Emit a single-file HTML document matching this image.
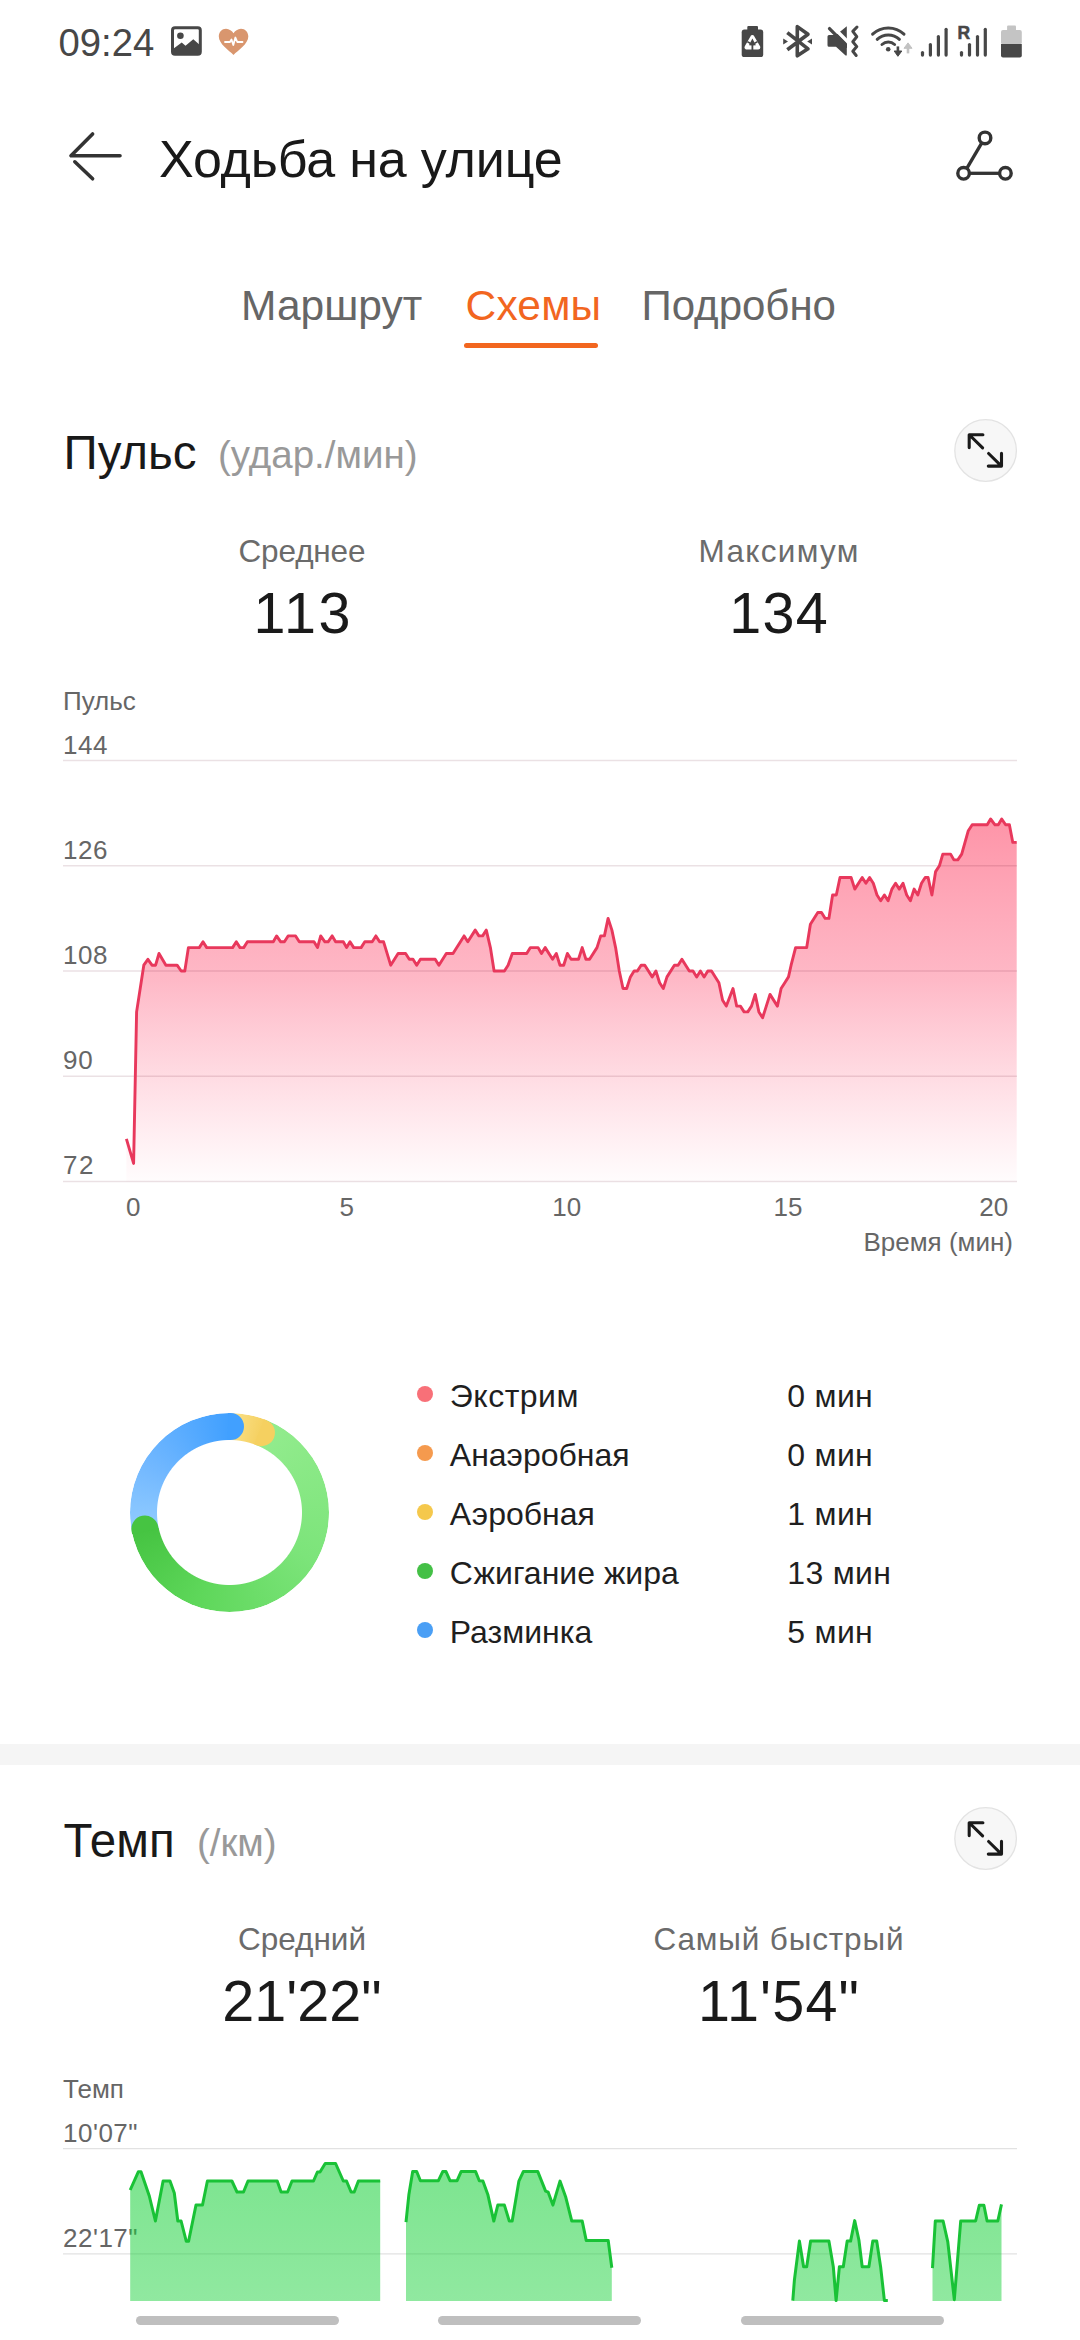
<!DOCTYPE html>
<html><head><meta charset="utf-8">
<style>
html,body{margin:0;padding:0;width:1080px;height:2340px;overflow:hidden;background:#fff;}
body{position:relative;font-family:"Liberation Sans", sans-serif;}
.t{position:absolute;white-space:nowrap;line-height:1;}
.abs{position:absolute;}
</style></head><body>

<div style="position:absolute;left:464px;top:343px;width:134px;height:5px;border-radius:2.5px;background:#f2661f"></div>
<div style="position:absolute;left:0;top:1744px;width:1080px;height:21px;background:#f5f5f5"></div>
<div style="position:absolute;left:136px;top:2316px;width:203px;height:9px;border-radius:4.5px;background:#bfbfbf"></div>
<div style="position:absolute;left:437.5px;top:2316px;width:203.5px;height:9px;border-radius:4.5px;background:#bfbfbf"></div>
<div style="position:absolute;left:741px;top:2316px;width:203px;height:9px;border-radius:4.5px;background:#bfbfbf"></div>

<div class="t" style="top:24.38px;font-size:38.3px;color:#474747;left:58.50px;">09:24</div><div class="t" style="top:132.98px;font-size:52px;color:#191919;letter-spacing:-0.15px;left:159.00px;">Ходьба на улице</div><div class="t" style="top:284.52px;font-size:42.5px;color:#666666;left:241.00px;">Маршрут</div><div class="t" style="top:284.52px;font-size:42.5px;color:#f2661f;letter-spacing:0.2px;left:465.50px;">Схемы</div><div class="t" style="top:284.95px;font-size:42px;color:#666666;left:641.50px;">Подробно</div><div class="t" style="top:428.79px;font-size:47.5px;color:#191919;left:63.50px;">Пульс</div><div class="t" style="top:436.41px;font-size:38.5px;color:#999999;left:218.00px;">(удар./мин)</div><div class="t" style="top:536.34px;font-size:31.5px;color:#6b6b6b;letter-spacing:-0.15px;left:-198.07px;width:1000px;text-align:center;">Среднее</div><div class="t" style="top:585.33px;font-size:57.5px;color:#1a1a1a;letter-spacing:2.7px;left:-196.65px;width:1000px;text-align:center;">113</div><div class="t" style="top:536.34px;font-size:31.5px;color:#6b6b6b;letter-spacing:1.3px;left:279.15px;width:1000px;text-align:center;">Максимум</div><div class="t" style="top:585.33px;font-size:57.5px;color:#1a1a1a;letter-spacing:1.25px;left:279.12px;width:1000px;text-align:center;">134</div><div class="t" style="top:687.99px;font-size:26px;color:#666666;left:63.00px;">Пульс</div><div class="t" style="top:731.99px;font-size:26px;color:#666666;letter-spacing:0.5px;left:63.00px;">144</div><div class="t" style="top:836.99px;font-size:26px;color:#666666;letter-spacing:0.5px;left:63.00px;">126</div><div class="t" style="top:941.99px;font-size:26px;color:#666666;letter-spacing:0.5px;left:63.00px;">108</div><div class="t" style="top:1046.99px;font-size:26px;color:#666666;letter-spacing:0.8px;left:63.00px;">90</div><div class="t" style="top:1151.99px;font-size:26px;color:#666666;letter-spacing:1.5px;left:63.00px;">72</div><div class="t" style="top:1193.99px;font-size:26px;color:#666666;left:-366.70px;width:1000px;text-align:center;">0</div><div class="t" style="top:1193.99px;font-size:26px;color:#666666;left:-153.30px;width:1000px;text-align:center;">5</div><div class="t" style="top:1193.99px;font-size:26px;color:#666666;left:66.75px;width:1000px;text-align:center;">10</div><div class="t" style="top:1193.99px;font-size:26px;color:#666666;left:288.00px;width:1000px;text-align:center;">15</div><div class="t" style="top:1193.99px;font-size:26px;color:#666666;left:493.75px;width:1000px;text-align:center;">20</div><div class="t" style="top:1229.29px;font-size:26px;color:#666666;right:67.00px;text-align:right;">Время (мин)</div><div class="t" style="top:1380.21px;font-size:32px;color:#1f1f1f;letter-spacing:0.5px;left:449.80px;">Экстрим</div><div class="t" style="top:1380.21px;font-size:32px;color:#1f1f1f;letter-spacing:0.3px;left:787.30px;">0 мин</div><div class="t" style="top:1439.21px;font-size:32px;color:#1f1f1f;left:449.80px;">Анаэробная</div><div class="t" style="top:1439.21px;font-size:32px;color:#1f1f1f;letter-spacing:0.3px;left:787.30px;">0 мин</div><div class="t" style="top:1498.21px;font-size:32px;color:#1f1f1f;left:449.80px;">Аэробная</div><div class="t" style="top:1498.21px;font-size:32px;color:#1f1f1f;letter-spacing:0.3px;left:787.30px;">1 мин</div><div class="t" style="top:1557.21px;font-size:32px;color:#1f1f1f;left:449.80px;">Сжигание жира</div><div class="t" style="top:1557.21px;font-size:32px;color:#1f1f1f;letter-spacing:0.3px;left:787.30px;">13 мин</div><div class="t" style="top:1616.21px;font-size:32px;color:#1f1f1f;left:449.80px;">Разминка</div><div class="t" style="top:1616.21px;font-size:32px;color:#1f1f1f;letter-spacing:0.3px;left:787.30px;">5 мин</div><div class="t" style="top:1816.79px;font-size:47.5px;color:#191919;left:63.50px;">Темп</div><div class="t" style="top:1824.41px;font-size:38.5px;color:#999999;left:197.00px;">(/км)</div><div class="t" style="top:1924.34px;font-size:31.5px;color:#6b6b6b;left:-198.00px;width:1000px;text-align:center;">Средний</div><div class="t" style="top:1973.33px;font-size:57.5px;color:#1a1a1a;left:-198.00px;width:1000px;text-align:center;">21'22"</div><div class="t" style="top:1924.34px;font-size:31.5px;color:#6b6b6b;letter-spacing:0.85px;left:278.93px;width:1000px;text-align:center;">Самый быстрый</div><div class="t" style="top:1973.33px;font-size:57.5px;color:#1a1a1a;letter-spacing:1.2px;left:279.10px;width:1000px;text-align:center;">11'54"</div><div class="t" style="top:2075.99px;font-size:26px;color:#666666;left:63.00px;">Темп</div><div class="t" style="top:2119.99px;font-size:26px;color:#666666;letter-spacing:0.5px;left:63.00px;">10'07"</div><div class="t" style="top:2224.99px;font-size:26px;color:#666666;letter-spacing:0.5px;left:63.00px;">22'17"</div>
<div style="position:absolute;left:417.3px;top:1386.1px;width:16px;height:16px;border-radius:50%;background:#f87078"></div><div style="position:absolute;left:417.3px;top:1445.1px;width:16px;height:16px;border-radius:50%;background:#f59a4e"></div><div style="position:absolute;left:417.3px;top:1504.1px;width:16px;height:16px;border-radius:50%;background:#f5c84c"></div><div style="position:absolute;left:417.3px;top:1563.1px;width:16px;height:16px;border-radius:50%;background:#44c046"></div><div style="position:absolute;left:417.3px;top:1622.1px;width:16px;height:16px;border-radius:50%;background:#4a9ff5"></div>
<div style="position:absolute;left:129.5px;top:1412.5px;width:199px;height:199px;border-radius:50%;
background:conic-gradient(from 0deg, #fae18a 0deg, #f5d060 21.7deg, #93ec8e 21.7deg, #7ce47a 120deg, #5ed75a 200deg, #46c442 258deg, #92ccff 258deg, #72b8ff 300deg, #41a0ff 360deg);
-webkit-mask:radial-gradient(circle, transparent 72.0px, #000 73.0px);mask:radial-gradient(circle, transparent 72.0px, #000 73.0px);"></div><div style="position:absolute;left:228.05px;top:1412.51px;width:15.5px;height:27px;border-radius:0 13.5px 13.5px 0;background:#41a0ff;transform-origin:2px 13.5px;transform:rotate(0.7deg)"></div><div style="position:absolute;left:258.80px;top:1418.59px;width:15.5px;height:27px;border-radius:0 13.5px 13.5px 0;background:#f5d060;transform-origin:2px 13.5px;transform:rotate(21.7deg)"></div><div style="position:absolute;left:142.88px;top:1516.38px;width:15.5px;height:27px;border-radius:0 13.5px 13.5px 0;background:#46c442;transform-origin:2px 13.5px;transform:rotate(258deg)"></div>

<svg class="abs" style="left:0;top:0" width="1080" height="200">
 <!-- gallery icon -->
 <rect x="172.5" y="27.75" width="27.8" height="26.5" rx="2.5" fill="none" stroke="#474747" stroke-width="3"/>
 <circle cx="180.4" cy="35.8" r="3.3" fill="#474747"/>
 <path d="M174 48.3 L181.7 42.5 L185.5 45.8 L193.3 39.2 L199 44.2 L199 53 L174 53 Z" fill="#474747"/>
 <!-- heart -->
 <path d="M233.5 55 C229 50.5 218.8 44 218.8 36.6 C218.8 32 222 28.75 226 28.75 C229.3 28.75 232 31 233.5 33.3 C235 31 237.7 28.75 241 28.75 C245 28.75 248.3 32 248.3 36.6 C248.3 44 238 50.5 233.5 55 Z" fill="#d9966e"/>
 <path d="M225 42 L230 42 L231.5 39.5 L233.3 45 L235.4 37.5 L237.3 42 L242.5 42" fill="none" stroke="#fff" stroke-width="1.8" stroke-linejoin="round" stroke-linecap="round"/>
 <!-- battery saver -->
 <rect x="747.3" y="25.9" width="10.7" height="5" rx="1" fill="#474747"/>
 <rect x="741.7" y="29.6" width="21.5" height="27.4" rx="2.6" fill="#474747"/>
 <path d="M752.4 37.2 L746.6 47.4 L758.2 47.4 Z" fill="none" stroke="#fff" stroke-width="4.2" stroke-linejoin="round"/>
 <path d="M752.4 38.6 L748.9 45.2 L755.9 45.2 Z" fill="#474747"/>
 <path d="M752.4 44 L752.4 50.5" stroke="#474747" stroke-width="1.8"/>
 <path d="M747.3 41.6 L750.2 43.3 M757.5 41.6 L754.6 43.3" stroke="#474747" stroke-width="1.6"/>
 <!-- bluetooth -->
 <path d="M787.3 32.6 L808 48.8 L797.3 55.8 L797.3 26.6 L808 34.2 L787.3 49.8" fill="none" stroke="#474747" stroke-width="3.6" stroke-linejoin="round"/>
 <path d="M783.2 38.5 L788 41.5 L783.2 44.5 Z M812 38.5 L807.2 41.5 L812 44.5 Z" fill="#474747"/>
 <!-- mute vibrate -->
 <path d="M829 35 L836 35 L846.8 26.2 L846.8 54.5 Q846.8 56.5 845 55 L836 46.8 L829 46.8 Q827.5 46.8 827.5 45.3 L827.5 36.5 Q827.5 35 829 35 Z" fill="#474747"/>
 <path d="M831.5 25.5 L849 43" stroke="#fff" stroke-width="3.4"/>
 <path d="M829.5 28.6 L847 46.3" stroke="#474747" stroke-width="3.3" stroke-linecap="round"/>
 <rect x="847" y="20" width="4" height="40" fill="#fff"/>
 <path d="M857 27 L852.8 31.4 L856.8 36.7 L852.8 41.8 L856.8 46.6 L852.8 51.2 L856.2 55.5" fill="none" stroke="#474747" stroke-width="3" stroke-linecap="round" stroke-linejoin="round"/>
 <!-- wifi -->
 <path d="M872.6 34.2 A22.8 22.8 0 0 1 904 34.2" fill="none" stroke="#474747" stroke-width="3" stroke-linecap="round"/>
 <path d="M877.2 39.3 A16.2 16.2 0 0 1 899.4 39.3" fill="none" stroke="#474747" stroke-width="3" stroke-linecap="round"/>
 <path d="M882 44.5 A9.5 9.5 0 0 1 894.6 44.5" fill="none" stroke="#474747" stroke-width="3" stroke-linecap="round"/>
 <circle cx="888.2" cy="49.2" r="2.3" fill="#474747"/>
 <path d="M897.9 46.4 L897.9 54" fill="none" stroke="#474747" stroke-width="2.6"/>
 <path d="M894.2 51 L897.9 56.3 L901.8 51 Z" fill="#474747" stroke="#474747" stroke-width="1" stroke-linejoin="round"/>
 <path d="M908 45.5 L908 53.4" fill="none" stroke="#c2c2c2" stroke-width="2.6"/>
 <path d="M904 48.3 L908 42.9 L912 48.3 Z" fill="#c2c2c2" stroke="#c2c2c2" stroke-width="1" stroke-linejoin="round"/>
 <!-- signal -->
 <g stroke="#474747" stroke-width="3.2" stroke-linecap="round">
  <line x1="922.5" y1="52.5" x2="922.5" y2="55.1"/>
  <line x1="930.4" y1="44.5" x2="930.4" y2="55.1"/>
  <line x1="938.4" y1="36.5" x2="938.4" y2="55.1"/>
  <line x1="946.1" y1="29.3" x2="946.1" y2="55.1"/>
  <line x1="961.5" y1="52.5" x2="961.5" y2="55.1"/>
  <line x1="969.5" y1="44.5" x2="969.5" y2="55.1"/>
  <line x1="977.5" y1="36.5" x2="977.5" y2="55.1"/>
  <line x1="985.3" y1="29.3" x2="985.3" y2="55.1"/>
 </g>
 <text x="957.6" y="39" font-family="Liberation Sans" font-weight="bold" font-size="17.5" fill="#474747" stroke="#474747" stroke-width="0.5">R</text>
 <!-- battery -->
 <rect x="1007.1" y="25.5" width="8.9" height="5.5" rx="1" fill="#c4c4c4"/>
 <rect x="1001" y="30.1" width="20.8" height="14.5" rx="2" fill="#c4c4c4"/>
 <path d="M1001 44 L1021.8 44 L1021.8 55.5 Q1021.8 57.5 1019.8 57.5 L1003 57.5 Q1001 57.5 1001 55.5 Z" fill="#474747"/>
 <!-- back arrow -->
 <path d="M92.6 134 L71 155.8 L120 155.8 M74.8 161.8 L92.6 178.8" fill="none" stroke="#333333" stroke-width="3.6" stroke-linecap="round" stroke-linejoin="round"/>
 <!-- route icon -->
 <line x1="981.8" y1="142.8" x2="966.8" y2="168.4" stroke="#333" stroke-width="3.3"/>
 <line x1="969.4" y1="173.3" x2="999.6" y2="173.3" stroke="#333" stroke-width="3.3"/>
 <circle cx="985" cy="137.9" r="5.8" fill="none" stroke="#333" stroke-width="3.4"/>
 <circle cx="963.6" cy="173.3" r="5.8" fill="none" stroke="#333" stroke-width="3.4"/>
 <circle cx="1005.4" cy="173.3" r="5.8" fill="none" stroke="#333" stroke-width="3.4"/>
</svg>

<svg class="abs" style="left:953px;top:417.9px" width="65" height="65" viewBox="953 417.9 65 65">
 <circle cx="985.6" cy="450.40" r="30.8" fill="#f7f7f7" stroke="#e3e3e3" stroke-width="1.3"/>
 <path d="M969.2 447.50 L969.2 434.60 L982.9 434.60 M969.5 434.90 L982.6 447.80" fill="none" stroke="#1a1a1a" stroke-width="3.1" stroke-linecap="round" stroke-linejoin="round"/>
 <path d="M1001.5 453.30 L1001.5 466.00 L988.3 466.00 M1001.2 465.70 L988.6 453.40" fill="none" stroke="#1a1a1a" stroke-width="3.1" stroke-linecap="round" stroke-linejoin="round"/>
</svg>
<svg class="abs" style="left:953px;top:1806.2px" width="65" height="65" viewBox="953 1806.2 65 65">
 <circle cx="985.6" cy="1838.70" r="30.8" fill="#f7f7f7" stroke="#e3e3e3" stroke-width="1.3"/>
 <path d="M969.2 1835.80 L969.2 1822.90 L982.9 1822.90 M969.5 1823.20 L982.6 1836.10" fill="none" stroke="#1a1a1a" stroke-width="3.1" stroke-linecap="round" stroke-linejoin="round"/>
 <path d="M1001.5 1841.60 L1001.5 1854.30 L988.3 1854.30 M1001.2 1854.00 L988.6 1841.70" fill="none" stroke="#1a1a1a" stroke-width="3.1" stroke-linecap="round" stroke-linejoin="round"/>
</svg>
<svg class="abs" width="1080" height="2340" style="left:0;top:0">
<defs>
<linearGradient id="pg" x1="0" y1="815" x2="0" y2="1181" gradientUnits="userSpaceOnUse">
<stop offset="0" stop-color="#fd3f62" stop-opacity="0.56"/>
<stop offset="0.45" stop-color="#fd4f72" stop-opacity="0.40"/>
<stop offset="1" stop-color="#ff6a8a" stop-opacity="0.02"/>
</linearGradient>
<linearGradient id="gg" x1="0" y1="2160" x2="0" y2="2301" gradientUnits="userSpaceOnUse">
<stop offset="0" stop-color="#18d039" stop-opacity="0.57"/>
<stop offset="1" stop-color="#18d039" stop-opacity="0.48"/>
</linearGradient>
</defs>
<polygon points="126.4,1138.8 133.6,1163.4 136.6,1011.9 143.8,965.2 147.9,959.3 152.0,965.2 155.6,965.2 159.0,953.5 165.9,965.2 177.1,965.2 181.2,971.0 184.8,971.0 188.4,947.6 199.3,947.6 203.0,941.8 206.7,947.6 232.6,947.6 236.3,941.8 240.0,947.6 243.7,947.6 247.4,941.8 273.3,941.8 276.6,935.9 280.7,941.8 284.4,941.8 288.1,935.9 295.6,935.9 299.3,941.8 314.0,941.8 317.5,947.6 320.7,935.9 324.9,941.8 328.1,941.8 332.2,935.9 335.6,941.8 343.3,941.8 346.6,947.6 350.0,941.8 353.7,947.6 361.1,947.6 364.8,941.8 372.2,941.8 375.9,935.9 379.6,941.8 383.6,941.8 390.7,965.2 398.1,953.5 405.6,953.5 409.3,959.3 413.0,959.3 416.7,965.2 420.4,959.3 435.2,959.3 438.9,965.2 446.3,953.5 453.0,953.5 464.1,935.9 467.8,941.8 475.2,930.1 478.9,935.9 482.6,935.9 486.3,930.1 490.4,947.6 494.1,971.0 504.4,971.0 508.1,965.2 512.3,953.5 526.7,953.5 530.4,947.6 538.1,947.6 541.5,953.5 545.2,947.6 552.6,959.3 556.3,953.5 560.0,965.2 563.7,965.2 567.4,953.5 571.1,959.3 578.5,959.3 582.2,947.6 585.9,959.3 589.6,959.3 597.0,947.6 600.7,935.9 604.4,935.9 608.1,918.4 611.9,930.1 615.6,947.6 619.3,971.0 623.0,988.5 626.7,988.5 630.4,976.9 634.1,971.0 637.4,971.0 641.1,965.2 644.8,965.2 652.2,976.9 655.9,971.0 659.6,982.7 663.3,988.5 667.0,976.9 674.4,965.2 678.1,965.2 681.9,959.3 689.3,971.0 693.0,971.0 696.7,976.9 700.4,971.0 704.1,976.9 707.8,971.0 711.5,971.0 718.9,982.7 722.6,1000.2 726.3,1006.1 733.0,988.5 736.7,1006.1 740.4,1006.1 744.1,1011.9 747.8,1011.9 751.5,1006.1 755.2,994.4 758.9,1011.9 762.6,1017.8 770.0,994.4 777.4,1006.1 781.1,988.5 784.8,982.7 788.5,976.9 791.1,965.2 795.6,947.6 806.7,947.6 810.4,924.2 817.8,912.5 821.5,912.5 825.2,918.4 828.9,918.4 832.6,895.0 836.3,895.0 840.0,877.5 851.1,877.5 854.8,889.1 862.2,877.5 865.9,883.3 869.6,877.5 873.3,883.3 877.0,895.0 880.7,900.8 884.4,895.0 888.1,900.8 891.9,889.1 895.6,883.3 899.3,889.1 903.0,883.3 906.7,895.0 910.4,900.8 914.1,889.1 917.8,895.0 921.5,883.3 925.2,877.5 928.1,877.5 931.9,895.0 935.6,871.6 939.4,865.8 942.8,854.1 950.6,854.1 953.9,859.9 957.8,859.9 961.7,854.1 968.3,830.7 972.2,824.8 987.2,824.8 990.6,819.0 995.0,824.8 998.3,824.8 1001.7,819.0 1005.6,824.8 1009.4,824.8 1012.8,842.4 1016.7,842.4 1016.7,1181.5 126.4,1181.5" fill="url(#pg)"/>
<line x1="63" x2="1017" y1="760.5" y2="760.5" stroke="rgba(90,10,30,0.12)" stroke-width="1.4"/><line x1="63" x2="1017" y1="865.75" y2="865.75" stroke="rgba(90,10,30,0.12)" stroke-width="1.4"/><line x1="63" x2="1017" y1="971.0" y2="971.0" stroke="rgba(90,10,30,0.12)" stroke-width="1.4"/><line x1="63" x2="1017" y1="1076.25" y2="1076.25" stroke="rgba(90,10,30,0.12)" stroke-width="1.4"/><line x1="63" x2="1017" y1="1181.5" y2="1181.5" stroke="rgba(90,10,30,0.12)" stroke-width="1.4"/>
<polyline points="126.4,1138.8 133.6,1163.4 136.6,1011.9 143.8,965.2 147.9,959.3 152.0,965.2 155.6,965.2 159.0,953.5 165.9,965.2 177.1,965.2 181.2,971.0 184.8,971.0 188.4,947.6 199.3,947.6 203.0,941.8 206.7,947.6 232.6,947.6 236.3,941.8 240.0,947.6 243.7,947.6 247.4,941.8 273.3,941.8 276.6,935.9 280.7,941.8 284.4,941.8 288.1,935.9 295.6,935.9 299.3,941.8 314.0,941.8 317.5,947.6 320.7,935.9 324.9,941.8 328.1,941.8 332.2,935.9 335.6,941.8 343.3,941.8 346.6,947.6 350.0,941.8 353.7,947.6 361.1,947.6 364.8,941.8 372.2,941.8 375.9,935.9 379.6,941.8 383.6,941.8 390.7,965.2 398.1,953.5 405.6,953.5 409.3,959.3 413.0,959.3 416.7,965.2 420.4,959.3 435.2,959.3 438.9,965.2 446.3,953.5 453.0,953.5 464.1,935.9 467.8,941.8 475.2,930.1 478.9,935.9 482.6,935.9 486.3,930.1 490.4,947.6 494.1,971.0 504.4,971.0 508.1,965.2 512.3,953.5 526.7,953.5 530.4,947.6 538.1,947.6 541.5,953.5 545.2,947.6 552.6,959.3 556.3,953.5 560.0,965.2 563.7,965.2 567.4,953.5 571.1,959.3 578.5,959.3 582.2,947.6 585.9,959.3 589.6,959.3 597.0,947.6 600.7,935.9 604.4,935.9 608.1,918.4 611.9,930.1 615.6,947.6 619.3,971.0 623.0,988.5 626.7,988.5 630.4,976.9 634.1,971.0 637.4,971.0 641.1,965.2 644.8,965.2 652.2,976.9 655.9,971.0 659.6,982.7 663.3,988.5 667.0,976.9 674.4,965.2 678.1,965.2 681.9,959.3 689.3,971.0 693.0,971.0 696.7,976.9 700.4,971.0 704.1,976.9 707.8,971.0 711.5,971.0 718.9,982.7 722.6,1000.2 726.3,1006.1 733.0,988.5 736.7,1006.1 740.4,1006.1 744.1,1011.9 747.8,1011.9 751.5,1006.1 755.2,994.4 758.9,1011.9 762.6,1017.8 770.0,994.4 777.4,1006.1 781.1,988.5 784.8,982.7 788.5,976.9 791.1,965.2 795.6,947.6 806.7,947.6 810.4,924.2 817.8,912.5 821.5,912.5 825.2,918.4 828.9,918.4 832.6,895.0 836.3,895.0 840.0,877.5 851.1,877.5 854.8,889.1 862.2,877.5 865.9,883.3 869.6,877.5 873.3,883.3 877.0,895.0 880.7,900.8 884.4,895.0 888.1,900.8 891.9,889.1 895.6,883.3 899.3,889.1 903.0,883.3 906.7,895.0 910.4,900.8 914.1,889.1 917.8,895.0 921.5,883.3 925.2,877.5 928.1,877.5 931.9,895.0 935.6,871.6 939.4,865.8 942.8,854.1 950.6,854.1 953.9,859.9 957.8,859.9 961.7,854.1 968.3,830.7 972.2,824.8 987.2,824.8 990.6,819.0 995.0,824.8 998.3,824.8 1001.7,819.0 1005.6,824.8 1009.4,824.8 1012.8,842.4 1016.7,842.4" fill="none" stroke="#e8385c" stroke-width="2.9" stroke-linejoin="round"/>

<line x1="63" x2="1017" y1="2148.6" y2="2148.6" stroke="#e2e2e2" stroke-width="1.4"/><line x1="63" x2="1017" y1="2253.9" y2="2253.9" stroke="#e2e2e2" stroke-width="1.4"/><polygon points="130.2,2190.0 138.3,2171.8 141.0,2171.8 149.3,2196.0 155.4,2221.0 163.1,2181.0 170.0,2181.0 174.3,2193.0 177.8,2221.0 181.1,2221.0 186.3,2241.3 188.6,2241.3 196.0,2205.0 202.5,2205.0 207.4,2181.0 231.9,2181.0 237.0,2192.0 243.5,2192.0 248.0,2181.0 277.2,2181.0 281.1,2192.0 287.6,2192.0 292.0,2181.0 313.5,2181.0 317.4,2172.0 320.0,2172.0 325.2,2163.5 335.6,2163.5 343.3,2181.0 346.5,2181.0 351.1,2192.0 354.2,2192.0 358.4,2181.0 380.2,2181.0 380.2,2301 130.2,2301" fill="url(#gg)"/><polygon points="406.0,2222.2 408.9,2194.4 412.7,2171.6 416.7,2171.6 420.4,2180.7 438.4,2180.7 442.7,2171.6 446.0,2171.6 450.0,2180.7 457.1,2180.7 461.1,2171.6 475.6,2171.6 479.3,2180.7 482.9,2181.0 487.8,2194.4 493.8,2221.1 497.8,2205.1 504.4,2205.1 509.3,2221.1 512.2,2221.1 518.9,2181.1 523.3,2171.6 537.8,2171.6 545.6,2191.1 548.2,2192.2 552.9,2205.1 560.0,2181.1 565.6,2196.7 571.8,2221.1 582.2,2221.1 586.2,2240.4 608.2,2240.4 611.8,2267.8 611.8,2301 406.0,2301" fill="url(#gg)"/><polygon points="792.8,2300.6 794.4,2280.0 799.4,2241.1 803.6,2266.7 806.7,2266.7 810.6,2241.1 828.9,2241.1 833.3,2266.7 836.1,2300.6 839.4,2266.7 843.3,2266.7 847.2,2241.1 850.6,2241.1 854.7,2220.6 858.9,2240.0 862.2,2266.7 868.9,2266.7 872.8,2241.1 876.7,2241.1 880.6,2266.7 884.4,2300.6 887.8,2300.6 887.8,2301 792.8,2301" fill="url(#gg)"/><polygon points="932.5,2268.2 935.3,2221.0 943.1,2221.0 947.8,2241.9 954.3,2299.7 960.7,2221.0 975.6,2221.0 979.3,2205.3 983.9,2205.3 987.1,2221.0 997.8,2221.0 1001.5,2204.4 1001.5,2301 932.5,2301" fill="url(#gg)"/><polyline points="130.2,2190.0 138.3,2171.8 141.0,2171.8 149.3,2196.0 155.4,2221.0 163.1,2181.0 170.0,2181.0 174.3,2193.0 177.8,2221.0 181.1,2221.0 186.3,2241.3 188.6,2241.3 196.0,2205.0 202.5,2205.0 207.4,2181.0 231.9,2181.0 237.0,2192.0 243.5,2192.0 248.0,2181.0 277.2,2181.0 281.1,2192.0 287.6,2192.0 292.0,2181.0 313.5,2181.0 317.4,2172.0 320.0,2172.0 325.2,2163.5 335.6,2163.5 343.3,2181.0 346.5,2181.0 351.1,2192.0 354.2,2192.0 358.4,2181.0 380.2,2181.0" fill="none" stroke="#19c236" stroke-width="3" stroke-linejoin="round"/><polyline points="406.0,2222.2 408.9,2194.4 412.7,2171.6 416.7,2171.6 420.4,2180.7 438.4,2180.7 442.7,2171.6 446.0,2171.6 450.0,2180.7 457.1,2180.7 461.1,2171.6 475.6,2171.6 479.3,2180.7 482.9,2181.0 487.8,2194.4 493.8,2221.1 497.8,2205.1 504.4,2205.1 509.3,2221.1 512.2,2221.1 518.9,2181.1 523.3,2171.6 537.8,2171.6 545.6,2191.1 548.2,2192.2 552.9,2205.1 560.0,2181.1 565.6,2196.7 571.8,2221.1 582.2,2221.1 586.2,2240.4 608.2,2240.4 611.8,2267.8" fill="none" stroke="#19c236" stroke-width="3" stroke-linejoin="round"/><polyline points="792.8,2300.6 794.4,2280.0 799.4,2241.1 803.6,2266.7 806.7,2266.7 810.6,2241.1 828.9,2241.1 833.3,2266.7 836.1,2300.6 839.4,2266.7 843.3,2266.7 847.2,2241.1 850.6,2241.1 854.7,2220.6 858.9,2240.0 862.2,2266.7 868.9,2266.7 872.8,2241.1 876.7,2241.1 880.6,2266.7 884.4,2300.6 887.8,2300.6" fill="none" stroke="#19c236" stroke-width="3" stroke-linejoin="round"/><polyline points="932.5,2268.2 935.3,2221.0 943.1,2221.0 947.8,2241.9 954.3,2299.7 960.7,2221.0 975.6,2221.0 979.3,2205.3 983.9,2205.3 987.1,2221.0 997.8,2221.0 1001.5,2204.4" fill="none" stroke="#19c236" stroke-width="3" stroke-linejoin="round"/></svg>
</body></html>
